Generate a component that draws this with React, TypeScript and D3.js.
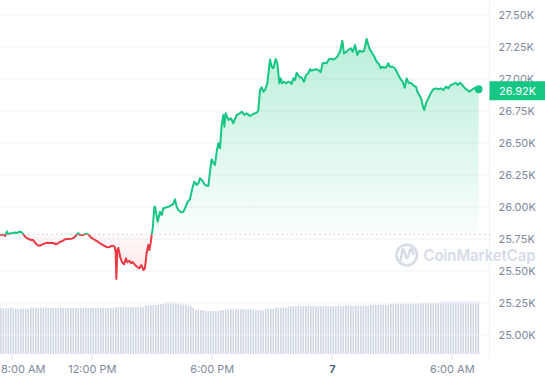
import React from "react";
import * as d3 from "d3";

// ---- data (minutes after 7:23 AM, price in USD) ----
const priceSeries: [number, number][] = [
  [0,25781],[9,25785],[15,25773],[21,25809],[24,25789],[30,25793],[39,25797],[45,25801],[51,25797],[57,25805],
  [63,25807],[69,25789],[75,25770],[81,25755],[87,25750],[93,25742],[99,25742],[105,25724],[111,25703],[117,25698],
  [123,25701],[129,25711],[135,25716],[141,25721],[150,25719],[159,25719],[168,25709],[174,25716],[180,25729],[186,25732],
  [195,25748],[204,25750],[213,25752],[219,25755],[228,25776],[234,25797],[240,25781],[249,25781],[255,25789],[261,25791],
  [267,25781],[273,25760],[279,25752],[285,25742],[291,25734],[297,25721],[303,25711],[309,25703],[315,25695],[321,25685],
  [327,25688],[333,25693],[339,25698],[344,25688],[347,25648],[349,25437],[352,25664],[355,25680],[358,25643],[361,25604],
  [366,25570],[372,25552],[378,25599],[382,25568],[388,25580],[393,25560],[398,25570],[405,25547],[412,25531],[418,25521],
  [424,25547],[430,25508],[434,25516],[437,25570],[440,25641],[445,25703],[448,25664],[452,25719],[455,25781],[458,25828],
  [463,25998],[465,26003],[473,25885],[480,25963],[485,25938],[490,25990],[500,25998],[507,26003],[515,26016],[520,26023],
  [525,26060],[530,26003],[535,25977],[543,25959],[550,25963],[555,25990],[563,26041],[570,26060],[577,26146],[583,26198],
  [590,26172],[595,26185],[600,26224],[607,26206],[615,26172],[625,26164],[630,26276],[635,26373],[640,26346],[645,26328],
  [650,26432],[655,26498],[660,26459],[665,26641],[670,26719],[673,26627],[677,26732],[685,26680],[693,26693],[700,26654],
  [710,26719],[717,26727],[725,26745],[733,26719],[740,26732],[750,26711],[760,26727],[770,26737],[775,26754],[780,26914],
  [785,26935],[790,26901],[795,26914],[802,26966],[810,27152],[815,27096],[820,27084],[827,27156],[832,27123],[838,26966],
  [842,27005],[846,26966],[852,26979],[858,26966],[865,26979],[870,26974],[875,26961],[880,27005],[885,26992],[890,27049],
  [898,27018],[905,27010],[912,26979],[918,27031],[925,27045],[930,27076],[935,27065],[940,27070],[948,27076],[955,27070],
  [962,27052],[968,27123],[975,27127],[980,27123],[987,27154],[993,27159],[1000,27152],[1010,27168],[1020,27213],[1027,27299],
  [1032,27201],[1040,27213],[1045,27227],[1052,27240],[1058,27213],[1065,27266],[1072,27188],[1078,27221],[1085,27213],[1092,27219],
  [1100,27313],[1108,27240],[1115,27209],[1123,27174],[1130,27135],[1137,27117],[1142,27084],[1147,27096],[1153,27088],[1160,27096],
  [1165,27123],[1170,27096],[1178,27096],[1185,27084],[1190,27057],[1195,27031],[1202,26998],[1208,26979],[1214,26932],[1220,27005],
  [1226,26971],[1235,26966],[1242,26945],[1248,26940],[1252,26901],[1258,26875],[1264,26841],[1270,26771],[1273,26758],[1278,26810],
  [1285,26849],[1293,26893],[1300,26920],[1308,26927],[1315,26920],[1323,26927],[1330,26914],[1338,26940],[1345,26927],[1352,26953],
  [1360,26959],[1367,26971],[1373,26953],[1380,26971],[1387,26953],[1395,26927],[1402,26914],[1408,26901],[1415,26914],[1422,26927],
  [1430,26932],[1436,26920],
];

const openPrice = 25786;

// 24h volume (billions USD), one bar every 7.5 minutes
const volumeBillions: number[] = [
  13.54,13.55,13.54,13.56,13.80,13.45,13.42,13.42,13.43,13.42,13.44,13.43,
  13.72,13.74,13.72,13.72,13.75,13.72,13.72,13.73,13.72,13.72,13.74,13.72,
  13.63,13.63,13.64,13.63,13.63,13.62,13.63,13.63,13.64,13.63,13.63,13.63,
  13.62,13.63,13.63,13.64,13.63,13.63,13.63,13.62,13.63,13.63,
  13.84,13.84,13.85,13.84,
  13.93,13.93,13.94,13.93,13.93,13.93,13.94,13.93,
  14.31,14.31,14.52,14.52,14.53,14.52,14.81,14.81,
  15.20,15.20,15.21,15.20,14.96,14.96,14.67,14.67,14.67,14.22,14.22,13.60,
  13.04,13.04,13.04,13.04,12.74,12.74,12.74,12.74,12.74,12.74,13.04,13.04,
  13.24,13.24,13.24,13.25,13.24,13.24,13.24,13.24,13.25,13.24,13.24,13.24,
  12.95,12.95,12.95,12.95,13.33,13.33,13.33,13.33,13.72,13.72,13.72,13.72,13.72,
  14.13,14.13,14.13,14.13,14.13,14.13,14.13,14.13,14.13,14.13,14.13,14.13,
  14.13,14.13,14.13,14.13,14.13,14.13,14.13,14.13,14.13,14.13,14.13,
  14.31,14.31,14.31,14.31,14.31,14.31,14.31,14.31,14.31,14.31,
  14.61,14.61,14.61,14.61,14.61,14.61,14.61,14.61,
  14.90,14.90,14.90,14.90,14.90,14.90,14.90,14.90,14.90,14.90,14.90,14.90,
  15.11,15.11,15.11,15.11,15.11,15.11,15.11,15.11,
  15.50,15.50,15.50,15.50,15.50,15.50,15.50,15.50,15.50,15.50,15.50,15.50,15.50,15.50,15.50,15.50,
];
const volumeStepMinutes = 7.5;

const yTickValues = [27500, 27250, 27000, 26750, 26500, 26250, 26000, 25750, 25500, 25250, 25000];
const xTickMinutes = [37, 277, 637, 997, 1357];
const xTickLabels = ["8:00 AM", "12:00 PM", "6:00 PM", "7", "6:00 AM"];

const GREEN = "#16c784";
const RED = "#ea3943";
const W = 545;
const H = 380;

export default function App() {
  const plotRight = 489.5;
  const x = d3.scaleLinear().domain([0, 1440]).range([0, 480]);
  const y = d3.scaleLinear().domain([25000, 27500]).range([335, 15]);
  const yVol = d3.scaleLinear().domain([0, 16]).range([354, 300]);
  const baseY = y(openPrice);

  const line = d3.line<[number, number]>().x(d => x(d[0])).y(d => y(d[1]));
  const area = d3
    .area<[number, number]>()
    .x(d => x(d[0]))
    .y0(baseY)
    .y1(d => y(d[1]));

  const maxP = d3.max(priceSeries, d => d[1]) as number;
  const minP = d3.min(priceSeries, d => d[1]) as number;
  const last = priceSeries[priceSeries.length - 1];
  const lastX = x(last[0]);
  const lastY = y(last[1]);
  const fmt = (v: number) => d3.format(".2f")(v / 1000) + "K";

  const font = "Inter, 'Noto Sans', sans-serif";

  return (
    <svg
      width={W}
      height={H}
      style={{ position: "absolute", left: 0, top: 0, background: "#fff" }}
      fontFamily={font}
    >
      <defs>
        <clipPath id="above">
          <rect x={0} y={0} width={plotRight} height={baseY} />
        </clipPath>
        <clipPath id="below">
          <rect x={0} y={baseY} width={plotRight} height={H - baseY} />
        </clipPath>
        <linearGradient id="gGreen" gradientUnits="userSpaceOnUse" x1={0} x2={0} y1={y(maxP)} y2={baseY}>
          <stop offset="0" stopColor={GREEN} stopOpacity={0.3} />
          <stop offset="1" stopColor={GREEN} stopOpacity={0.02} />
        </linearGradient>
        <linearGradient id="gRed" gradientUnits="userSpaceOnUse" x1={0} x2={0} y1={baseY} y2={y(minP)}>
          <stop offset="0" stopColor={RED} stopOpacity={0.02} />
          <stop offset="1" stopColor={RED} stopOpacity={0.16} />
        </linearGradient>
      </defs>

      {/* volume bars */}
      <g>
        {volumeBillions.map((v, i) => (
          <rect
            key={i}
            x={x(i * volumeStepMinutes)}
            y={yVol(v)}
            width={1.6}
            height={yVol(0) - yVol(v)}
            fill="#cfd6e4"
          />
        ))}
      </g>

      {/* grid */}
      <g>
        {yTickValues.map(v => (
          <line key={v} x1={0} x2={plotRight} y1={y(v)} y2={y(v)} stroke="#eff2f5" strokeWidth={1} />
        ))}
        <line x1={plotRight} x2={plotRight} y1={0} y2={358} stroke="#eff2f5" strokeWidth={1} />
      </g>

      {/* watermark */}
      <g opacity={0.85}>
        <circle cx={406.7} cy={255} r={10.3} fill="none" stroke="#cfd6e4" strokeWidth={2.6} />
        <path
          d="M400.5,260.5 L402.3,250.5 Q403,248 404,250.5 L406,257 Q407,259.5 408,257 L410,250 Q411,247.5 412.2,250.5 L413.4,254"
          fill="none"
          stroke="#cfd6e4"
          strokeWidth={2.4}
          strokeLinecap="round"
          strokeLinejoin="round"
        />
        <text
          x={423.5}
          y={255.3}
          dominantBaseline="central"
          fontSize={16}
          fontWeight={600}
          fill="#cfd6e4"
          textLength={112}
          lengthAdjust="spacingAndGlyphs"
        >
          CoinMarketCap
        </text>
      </g>

      {/* areas */}
      <path d={area(priceSeries) || ""} fill="url(#gGreen)" clipPath="url(#above)" />
      <path d={area(priceSeries) || ""} fill="url(#gRed)" clipPath="url(#below)" />

      {/* baseline */}
      <line
        x1={0}
        x2={plotRight}
        y1={baseY}
        y2={baseY}
        stroke="#a6b0c3"
        strokeWidth={1}
        strokeDasharray="1 3.7"
      />

      {/* lines */}
      <path d={line(priceSeries) || ""} fill="none" stroke={GREEN} strokeWidth={2} strokeLinejoin="round" clipPath="url(#above)" />
      <path d={line(priceSeries) || ""} fill="none" stroke={RED} strokeWidth={2} strokeLinejoin="round" clipPath="url(#below)" />

      {/* last point */}
      <circle cx={lastX} cy={lastY} r={3.9} fill={GREEN} />

      {/* y axis labels */}
      <g fontSize={11} fill="#808a9d">
        {yTickValues.map(v => (
          <text key={v} x={498.5} y={y(v)} dominantBaseline="central">
            {fmt(v)}
          </text>
        ))}
      </g>

      {/* current price tag */}
      <rect x={plotRight} y={lastY - 8} width={W - plotRight} height={19} fill={GREEN} />
      <text x={499} y={lastY + 1.5} dominantBaseline="central" fontSize={11} fill="#ffffff">
        {fmt(last[1])}
      </text>

      {/* x axis */}
      <g>
        {xTickMinutes.map((m, i) => {
          const tx = x(m);
          const isDay = xTickLabels[i] === "7";
          const clampStart = tx - 24 < 0;
          return (
            <g key={m}>
              <line x1={tx} x2={tx} y1={355} y2={359} stroke="#dfe3ea" strokeWidth={1} />
              <text
                x={clampStart ? 1 : tx}
                y={368.5}
                textAnchor={clampStart ? "start" : "middle"}
                dominantBaseline="central"
                fontSize={11}
                fontWeight={isDay ? 700 : 400}
                fill={isDay ? "#58667e" : "#808a9d"}
              >
                {xTickLabels[i]}
              </text>
            </g>
          );
        })}
      </g>
    </svg>
  );
}
